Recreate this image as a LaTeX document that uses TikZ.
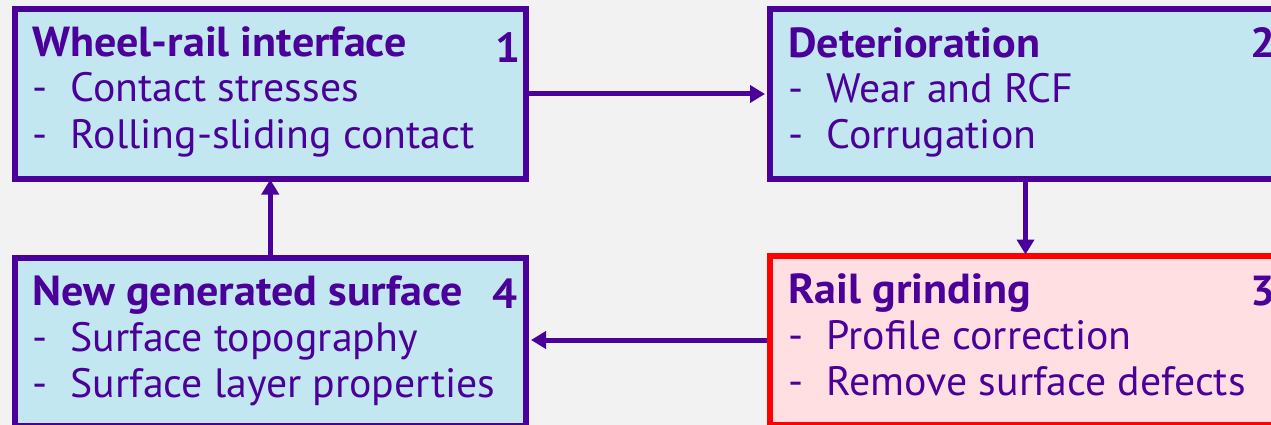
\documentclass[tikz,border=0pt]{standalone}
\usepackage{fontspec}
\setmainfont{PT Sans}[UprightFeatures={FakeStretch=1.02},BoldFeatures={FakeStretch=1.05}]
\usetikzlibrary{arrows.meta}
\definecolor{purp}{RGB}{74,0,153}
\definecolor{bluefill}{RGB}{194,231,240}
\definecolor{pinkfill}{RGB}{255,223,225}
\definecolor{redline}{RGB}{255,0,0}
\definecolor{bg}{RGB}{242,242,242}
\tikzset{
  box/.style={draw=purp, line width=6pt, fill=bluefill, rectangle, inner sep=0pt, anchor=north west},
  redbox/.style={box, draw=redline, fill=pinkfill},
  ttl/.style={anchor=base west, inner sep=0pt, text=purp, font=\fontsize{42}{42}\selectfont\bfseries},
  itm/.style={anchor=base west, inner sep=0pt, text=purp, font=\fontsize{41}{41}\selectfont},
  arr/.style={draw=purp, line width=5pt, -{Triangle[length=15pt,width=17pt]}}
}
\newcommand{\bul}[1]{\makebox[38.6pt][l]{-}#1}
\begin{document}
\begin{tikzpicture}[x=1pt,y=-1pt]
\useasboundingbox (0,0) rectangle (1271,425);
\fill[bg] (0,0) rectangle (1271,425);
% boxes
\node[box, minimum width=511.5pt, minimum height=169pt] (b1) at (11.5,6.5) {};
\node[box, minimum width=511pt, minimum height=169pt] (b2) at (767,6.5) {};
\node[redbox, minimum width=511pt, minimum height=169pt] (b3) at (767,252.5) {};
\node[box, minimum width=511.5pt, minimum height=168pt] (b4) at (11.5,254.5) {};
% texts box 1
\node[ttl] (t1) at (32,57) {Wheel-rail interface};
\node[ttl] (n1) at (495,63) {1};
\node[itm] (t1a) at (32,102) {\bul{Contact stresses}};
\node[itm] (t1b) at (32,148) {\bul{Rolling-sliding contact}};
% box 2
\node[ttl] (t2) at (788,58) {Deterioration};
\node[ttl] (n2) at (1250,58) {2};
\node[itm] (t2a) at (788,103) {\bul{Wear and RCF}};
\node[itm] (t2b) at (788,148) {\bul{Corrugation}};
% box 3
\node[ttl] (t3) at (788,303) {Rail grinding};
\node[ttl] (n3) at (1250,305) {3};
\node[itm] (t3a) at (788,349) {\bul{Profile correction}};
\node[itm] (t3b) at (788,395) {\bul{Remove surface defects}};
% box 4
\node[ttl] (t4) at (32,305) {New generated surface};
\node[ttl] (n4) at (492,308) {4};
\node[itm] (t4a) at (32,351) {\bul{Surface topography}};
\node[itm] (t4b) at (32,397) {\bul{Surface layer properties}};
% arrows
\draw[arr] (b1.east) -- ([xshift=-2pt]b2.west);
\draw[arr] (b2.south) -- ([yshift=-2pt]b3.north);
\draw[arr] (b3.west) -- ([xshift=2pt]b4.east |- b3.west);
\draw[arr] (b4.north) -- ([yshift=2pt]b1.south);
\end{tikzpicture}
\end{document}
